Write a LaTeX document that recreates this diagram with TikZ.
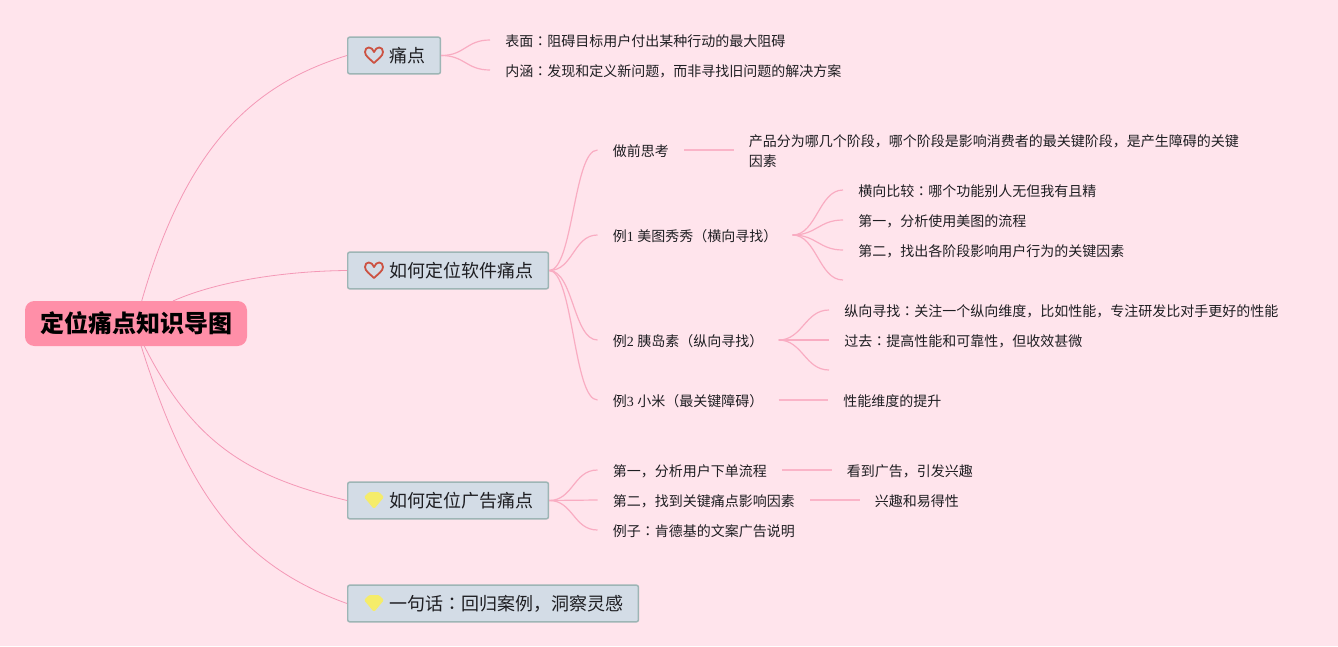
\documentclass[tikz,border=0pt]{standalone}
\usepackage{fontspec}
\setmainfont{Noto Sans CJK SC}
\newfontfamily\tcfont{Noto Sans CJK TC}
\newfontfamily\digitfont{Liberation Serif}
\usetikzlibrary{positioning}
\definecolor{bgpink}{RGB}{255,228,236}
\definecolor{rootpink}{RGB}{255,143,168}
\definecolor{boxblue}{RGB}{211,220,230}
\definecolor{boxedge}{RGB}{157,181,181}
\definecolor{linkpink}{RGB}{249,172,194}
\definecolor{rootlink}{RGB}{244,152,182}
\definecolor{heartred}{RGB}{204,82,66}
\definecolor{gemyellow}{RGB}{245,236,106}
\definecolor{inkdark}{RGB}{30,30,34}
\newcommand{\mh}{{\tcfont ：}}
\newcommand{\dg}[1]{{\digitfont #1}}
\tikzset{
  root/.style={
    rectangle, rounded corners=7pt,
    fill=rootpink, draw=none,
    minimum width=166.5pt, minimum height=33.75pt,
    font=\fontsize{18pt}{22pt}\selectfont\bfseries, text=black
  },
  branch/.style={
    rectangle, rounded corners=1.5pt, anchor=west,
    fill=boxblue, draw=boxedge, line width=1.1pt,
    minimum height=27.5pt, inner xsep=11pt, inner ysep=0pt,
    font=\fontsize{13.5pt}{16pt}\selectfont, text=inkdark
  },
  item/.style={
    rectangle, anchor=west, inner xsep=11.25pt, inner ysep=2pt,
    font=\fontsize{10.5pt}{15pt}\selectfont, text=inkdark, align=left
  },
  mainlink/.style={draw=rootlink, line width=0.6pt},
  sbend/.style={draw=linkpink, line width=0.9pt,
    to path={.. controls +(24,0) and +(-24,0) .. ([yshift=0.75pt]\tikztotarget)}},
  leafline/.style={draw=linkpink!85!bgpink, line width=0.9pt,
    to path={([yshift=0.75pt]\tikztostart.east) -- ([yshift=0.75pt]\tikztotarget.west)}},
  hearticon/.pic={
    \draw[heartred, line width=1.35pt, line join=round]
      (0,8) .. controls (-4,4) and (-9,1) .. (-9,-3)
      .. controls (-9,-9) and (-2,-9) .. (0,-3)
      .. controls (2,-9) and (9,-9) .. (9,-3)
      .. controls (9,1) and (4,4) .. (0,8) -- cycle;
  },
  gemicon/.pic={
    \fill[gemyellow, rounded corners=1pt]
      (-5,-8) -- (5,-8) -- (10,-3) -- (0,9) -- (-10,-3) -- cycle;
  }
}
\begin{document}
\begin{tikzpicture}[x=0.75pt, y=-0.75pt]

    \fill[bgpink] (0,0) rectangle (1338,646);
    \useasboundingbox (0,0) rectangle (1338,646);

    %% ---- Root and main branches ------------------------------------
    \node[root] (map) at (136,323.5) {定位痛点知识导图};

    \node[branch] (pain) at (347,55.5) {\hspace{20.5pt}痛点};
    \node[branch] (soft) at (347,270.5) {\hspace{20.5pt}如何定位软件痛点};
    \node[branch] (ad) at (347,500.5) {\hspace{20.5pt}如何定位广告痛点};
    \node[branch] (oneline) at (347,603.5) {\hspace{20.5pt}一句话\mh 回归案例，洞察灵感};

    \pic at (374,55) {hearticon};
    \pic at (374,270) {hearticon};
    \pic at (374,500) {gemicon};
    \pic at (374,603) {gemicon};

    \coordinate (maptop) at (141.7,301);
    \coordinate (mapright) at (173,301);
    \coordinate (mapbota) at (144,345.5);
    \coordinate (mapbotb) at (141,345.5);

    \draw[mainlink] (maptop) .. controls (185,150) and (250,85) .. (pain.west);
    \draw[mainlink] (mapright) .. controls (220,280) and (290,271) .. (soft.west);
    \draw[mainlink] (mapbota) .. controls (194,445) and (250,477) .. (ad.west);
    \draw[mainlink] (mapbotb) .. controls (188,495) and (240,565) .. (oneline.west);

    %% ---- Pain points ------------------------------------------------
    \node[item] (surface) at (490,41) {表面\mh 阻碍目标用户付出某种行动的最大阻碍};
    \node[item] (inner) at (490,71) {内涵\mh 发现和定义新问题，而非寻找旧问题的解决方案};

    \foreach \n in {surface,inner}{
      \draw[sbend] (pain.east) to (\n.west);
    }

    %% ---- Software pain points ---------------------------------------
    \node[item] (think) at (597.5,151) {做前思考};
    \node[item] (ex1) at (597.5,236) {例\dg{1 }美图秀秀（横向寻找）};
    \node[item] (ex2) at (597.5,341) {例\dg{2 }胰岛素（纵向寻找）};
    \node[item] (ex3) at (597.5,401) {例\dg{3 }小米（最关键障碍）};

    \foreach \n in {think,ex1,ex2,ex3}{
      \draw[sbend] (soft.east) to (\n.west);
    }

    \node[item, right=37.25pt of think] (stage)
      {产品分为哪几个阶段，哪个阶段是影响消费者的最关键阶段，是产生障碍的关键\\因素};
    \draw[leafline] (think) to (stage);

    \node[item] (ex1a) at (843,191) {横向比较\mh 哪个功能别人无但我有且精};
    \node[item] (ex1b) at (843,221) {第一，分析使用美图的流程};
    \node[item] (ex1c) at (843,251) {第二，找出各阶段影响用户行为的关键因素};
    \coordinate (ex1d) at (843,281);

    \foreach \n in {ex1a.west,ex1b.west,ex1c.west,ex1d}{
      \draw[sbend] ([yshift=0.75pt]ex1.east) to (\n);
    }

    \node[item] (ex2a) at (829,311) {纵向寻找\mh 关注一个纵向维度，比如性能，专注研发比对手更好的性能};
    \node[item] (ex2b) at (829,341) {过去\mh 提高性能和可靠性，但收效甚微};
    \coordinate (ex2c) at (829,371);

    \foreach \n in {ex2a.west,ex2b.west,ex2c}{
      \draw[sbend] ([yshift=0.75pt]ex2.east) to (\n);
    }

    \node[item, right=37.25pt of ex3] (ex3a) {性能维度的提升};
    \draw[leafline] (ex3) to (ex3a);

    %% ---- Ad pain points ---------------------------------------------
    \node[item] (step1) at (597.5,471) {第一，分析用户下单流程};
    \node[item] (step2) at (597.5,501) {第二，找到关键痛点影响因素};
    \node[item] (kfc) at (597.5,531) {例子\mh 肯德基的文案广告说明};

    \foreach \n in {step1,step2,kfc}{
      \draw[sbend] (ad.east) to (\n.west);
    }

    \node[item, right=37.25pt of step1] (seead) {看到广告，引发兴趣};
    \node[item, right=37.25pt of step2] (ease) {兴趣和易得性};
    \draw[leafline] (step1) to (seead);
    \draw[leafline] (step2) to (ease);

\end{tikzpicture}
\end{document}
